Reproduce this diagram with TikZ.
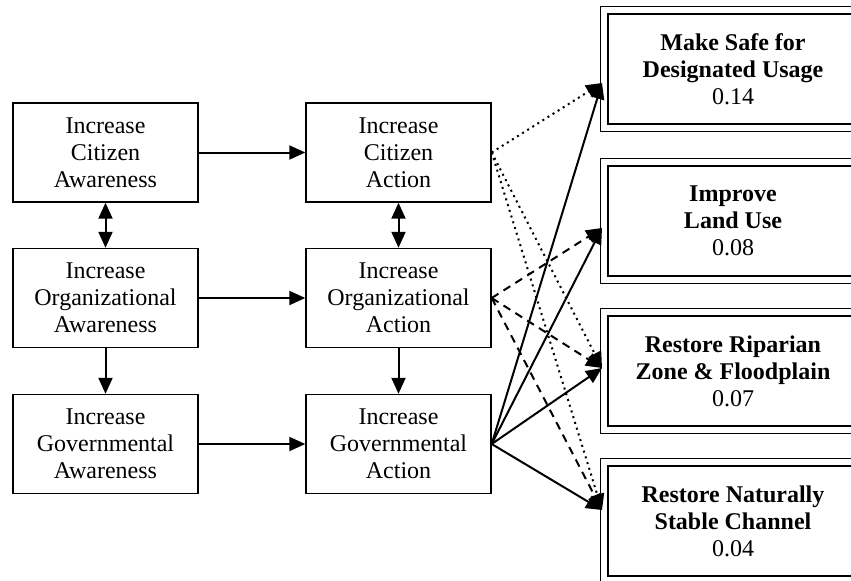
\documentclass[tikz,border=0pt]{standalone}
\usepackage{fontspec}
\setmainfont{Liberation Serif}
\usetikzlibrary{arrows.meta}

\begin{document}
\begin{tikzpicture}[x=0.5pt, y=-0.5pt,
    every node/.style={font=\fontsize{12}{13.5}\selectfont},
    stage/.style={draw, line width=0.7pt, align=center, minimum width=92.5pt, minimum height=49.5pt, inner sep=0pt},
    goal/.style={draw, line width=1.2pt, align=center, minimum width=125pt, minimum height=55pt, inner sep=0pt},
    link/.style={line width=1pt, -{Triangle[length=8pt,width=7pt]}},
    both/.style={line width=1pt, {Triangle[length=8pt,width=7pt]}-{Triangle[length=8pt,width=7pt]}}]
  \useasboundingbox (0,0) rectangle (851,580);
  \clip (0,0) rectangle (851,580);

  % awareness
  \node[stage] (caw) at (105.5,152.5) {Increase\\Citizen\\Awareness};
  \node[stage] (oaw) at (105.5,298) {Increase\\Organizational\\Awareness};
  \node[stage] (gaw) at (105.5,444) {Increase\\Governmental\\Awareness};

  % action
  \node[stage] (cac) at (398.5,152.5) {Increase\\Citizen\\Action};
  \node[stage] (oac) at (398.5,298) {Increase\\Organizational\\Action};
  \node[stage] (gac) at (398.5,444) {Increase\\Governmental\\Action};

  % goals
  \node[goal] (g1) at (733,69) {\textbf{Make Safe for}\\\textbf{Designated Usage}\\0.14};
  \node[goal] (g2) at (733,221) {\textbf{Improve}\\\textbf{Land Use}\\0.08};
  \node[goal] (g3) at (733,371) {\textbf{Restore Riparian}\\\textbf{Zone \& Floodplain}\\0.07};
  \node[goal] (g4) at (733,521) {\textbf{Restore Naturally}\\\textbf{Stable Channel}\\0.04};
  \foreach \g in {g1,g2,g3,g4}
    \draw[line width=0.5pt] ([shift={(-6,-6)}]\g.north west) rectangle ([shift={(6,6)}]\g.south east);

  \coordinate (t1) at (602,83);
  \coordinate (t2) at (602,228);
  \coordinate (t3) at (602,368);
  \coordinate (t4) at (602,510);

  \draw[link] (caw) -- (cac);
  \draw[link] (oaw) -- (oac);
  \draw[link] (gaw) -- (gac);
  \draw[both] (caw) -- (oaw);
  \draw[link] (oaw) -- (gaw);
  \draw[both] (cac) -- (oac);
  \draw[link] (oac) -- (gac);

  \foreach \t in {t1,t3,t4}
    \draw[link, dotted] (cac.east) -- (\t);
  \foreach \t in {t2,t3,t4}
    \draw[link, dash pattern=on 4pt off 3pt] (oac.east) -- (\t);
  \foreach \t in {t1,t2,t3,t4}
    \draw[link] (gac.east) -- (\t);
\end{tikzpicture}
\end{document}
